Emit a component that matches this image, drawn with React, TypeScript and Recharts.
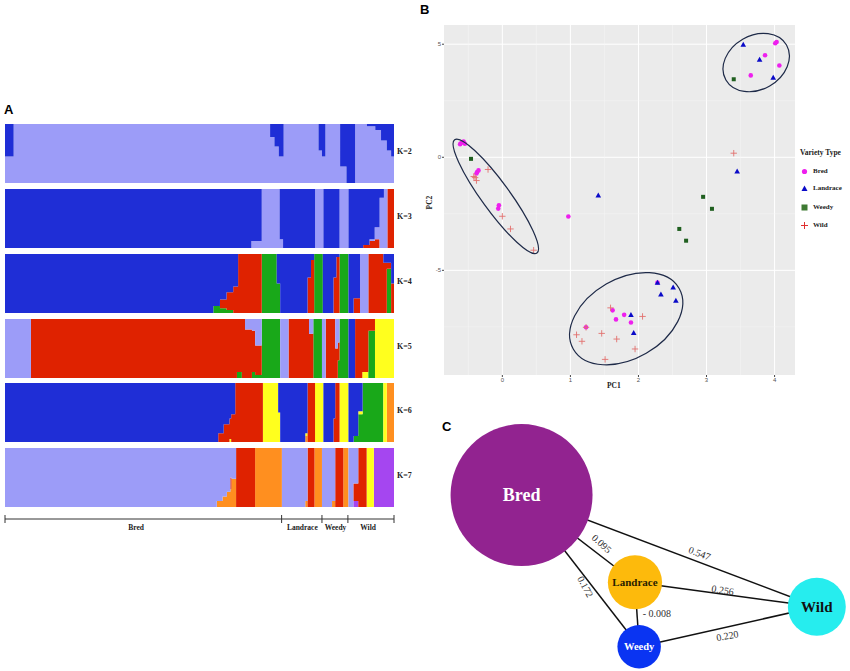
import React from "react";
import {
  Area,
  AreaChart,
  CartesianGrid,
  Line,
  LineChart,
  ReferenceDot,
  ReferenceLine,
  Scatter,
  ScatterChart,
  XAxis,
  YAxis,
} from "recharts";

const SERIF = '"Liberation Serif", "DejaVu Serif", serif';
const SANS = '"Liberation Sans", Arial, sans-serif';

// ---------- A: ancestry (STRUCTURE) ----------
const ANC: Record<string, string> = {
  light: "#9C9CF8",
  blue: "#1F2ED6",
  red: "#DF2200",
  green: "#19A819",
  yellow: "#FFFF1E",
  orange: "#FF8F1F",
  purple: "#A546F0",
};

const groupNames = ["Bred", "Landrace", "Weedy", "Wild"];
const groupCounts = [96, 14, 9, 16];
const groupLabelAt = [45.5, 103.2, 114.7, 126];

// rows: [individual index where the run starts, ...ancestry fractions in key order]
const k2Keys = ["light", "blue"];
const k2Rows = [
  [0, 0.45, 0.55],
  [3, 1, 0],
  [92, 0.78, 0.22],
  [93.5, 0.62, 0.38],
  [95, 0.45, 0.55],
  [96.7, 1, 0],
  [108.8, 0.55, 0.45],
  [110, 0.45, 0.55],
  [111.2, 1, 0],
  [116.3, 0.28, 0.72],
  [118.5, 0, 1],
  [121.5, 1, 0],
  [125.6, 0.96, 0.04],
  [128.5, 0.9, 0.1],
  [130.5, 0.72, 0.28],
  [132.5, 0.55, 0.45],
  [134, 0.45, 0.55],
  [135, 0.45, 0.55],
];

const k3Keys = ["red", "light", "blue"];
const k3Rows = [
  [0, 0, 0, 1],
  [85.5, 0, 0.12, 0.88],
  [89.1, 0, 1, 0],
  [95.3, 0, 0.15, 0.85],
  [96.5, 0, 0, 1],
  [107.6, 0, 1, 0],
  [110.5, 0, 0, 1],
  [116.1, 0, 1, 0],
  [119.2, 0, 0, 1],
  [124.3, 0.05, 0, 0.95],
  [126.5, 0.12, 0.03, 0.85],
  [128.3, 0.15, 0.2, 0.65],
  [130, 0, 0.85, 0.15],
  [131.5, 0, 1, 0],
  [132.7, 1, 0, 0],
  [135, 1, 0, 0],
];

const k4Keys = ["green", "red", "light", "blue"];
const k4Rows = [
  [0, 0, 0, 0, 1],
  [72.3, 0.12, 0, 0, 0.88],
  [74.6, 0.08, 0.15, 0, 0.77],
  [76.9, 0.05, 0.3, 0, 0.65],
  [79.2, 0, 0.45, 0, 0.55],
  [80.9, 0, 1, 0, 0],
  [89.1, 1, 0, 0, 0],
  [94.3, 0.5, 0, 0, 0.5],
  [95.5, 0, 0, 0, 1],
  [105, 0, 0.6, 0, 0.4],
  [106.2, 0, 0.9, 0, 0.1],
  [107.3, 1, 0, 0, 0],
  [110.3, 0, 0, 0, 1],
  [114, 0, 0.6, 0, 0.4],
  [115, 0, 0.95, 0, 0.05],
  [116.1, 1, 0, 0, 0],
  [119.2, 0, 0, 0, 1],
  [121, 0, 0.25, 0, 0.75],
  [123.2, 0, 0, 1, 0],
  [126.1, 0, 1, 0, 0],
  [131.3, 0, 0.85, 0, 0.15],
  [132.5, 0.75, 0.1, 0, 0.15],
  [134, 0, 0.5, 0, 0.5],
  [135, 0, 0.5, 0, 0.5],
];

const k5Keys = ["yellow", "green", "red", "blue", "light"];
const k5Rows = [
  [0, 0, 0, 0, 0, 1],
  [9, 0, 0, 1, 0, 0],
  [80.5, 0, 0.1, 0.9, 0, 0],
  [82.2, 0, 0, 1, 0, 0],
  [83.3, 0, 0, 0.82, 0, 0.18],
  [85.7, 0, 0.1, 0.7, 0, 0.2],
  [86.8, 0, 0.05, 0.5, 0, 0.45],
  [89.1, 0, 1, 0, 0, 0],
  [95.5, 0, 0, 0, 0, 1],
  [98.4, 0, 0, 1, 0, 0],
  [105.5, 0, 0, 0.75, 0, 0.25],
  [107, 0, 1, 0, 0, 0],
  [110, 0, 0, 0, 0, 1],
  [111.3, 0, 0, 1, 0, 0],
  [114.6, 0, 0, 0.5, 0, 0.5],
  [115.5, 0, 0.3, 0.3, 0, 0.4],
  [116.1, 0, 1, 0, 0, 0],
  [119.2, 0, 0, 0, 1, 0],
  [121.5, 0, 0, 1, 0, 0],
  [124, 0.1, 0, 0.9, 0, 0],
  [126.1, 0, 0.8, 0.2, 0, 0],
  [128.4, 1, 0, 0, 0, 0],
  [135, 1, 0, 0, 0, 0],
];

const k6Keys = ["orange", "green", "yellow", "red", "blue"];
const k6Rows = [
  [0, 0, 0, 0, 0, 1],
  [74, 0, 0, 0, 0.15, 0.85],
  [75.9, 0, 0, 0, 0.3, 0.7],
  [77.9, 0, 0, 0.05, 0.35, 0.6],
  [78.5, 0, 0, 0, 0.47, 0.53],
  [79.9, 0, 0, 0, 1, 0],
  [89.5, 0, 0, 1, 0, 0],
  [94.8, 0, 0, 0.5, 0, 0.5],
  [95.5, 0, 0, 0, 0, 1],
  [104.2, 0.1, 0, 0.05, 0, 0.85],
  [105, 0, 0, 0, 1, 0],
  [107.6, 0, 0, 1, 0, 0],
  [110.5, 0, 0, 0, 0, 1],
  [114, 0, 0, 0, 0.4, 0.6],
  [114.6, 0, 0, 0, 1, 0],
  [116.1, 0, 0, 1, 0, 0],
  [119.2, 0, 0, 0, 0, 1],
  [121, 0, 0.1, 0, 0, 0.9],
  [122.6, 0, 0.47, 0.05, 0, 0.48],
  [124.1, 0, 1, 0, 0, 0],
  [131.3, 0, 0, 1, 0, 0],
  [132.5, 1, 0, 0, 0, 0],
  [135, 1, 0, 0, 0, 0],
];

const k7Keys = ["purple", "yellow", "orange", "red", "light"];
const k7Rows = [
  [0, 0, 0, 0, 0, 1],
  [73.5, 0, 0, 0.1, 0, 0.9],
  [75.5, 0, 0, 0.18, 0, 0.82],
  [77, 0, 0, 0.26, 0, 0.74],
  [78.2, 0, 0, 0.3, 0.2, 0.5],
  [78.6, 0, 0, 0.48, 0, 0.52],
  [80.2, 0, 0, 0, 1, 0],
  [86.8, 0, 0, 1, 0, 0],
  [96.1, 0, 0, 0, 0, 1],
  [104.2, 0, 0, 0.1, 0, 0.9],
  [105, 0, 0, 0, 1, 0],
  [107.4, 0, 0, 1, 0, 0],
  [110, 0, 0, 0, 0, 1],
  [113.5, 0, 0, 0.1, 0, 0.9],
  [114.6, 0, 0, 0, 1, 0],
  [117.4, 0, 0, 1, 0, 0],
  [119.2, 0, 0, 0, 0, 1],
  [120.9, 0.1, 0, 0, 0.3, 0.6],
  [122.6, 0, 0, 0, 1, 0],
  [125.5, 0, 1, 0, 0, 0],
  [128, 1, 0, 0, 0, 0],
  [135, 1, 0, 0, 0, 0],
];

const structurePanels = [
  { label: "K=2", keys: k2Keys, rows: k2Rows },
  { label: "K=3", keys: k3Keys, rows: k3Rows },
  { label: "K=4", keys: k4Keys, rows: k4Rows },
  { label: "K=5", keys: k5Keys, rows: k5Rows },
  { label: "K=6", keys: k6Keys, rows: k6Rows },
  { label: "K=7", keys: k7Keys, rows: k7Rows },
];

// ---------- B: PCA ----------
const bredPts = [
  [4.03, 5.1], [4.01, 5.04], [3.86, 4.51], [4.07, 4.06], [3.65, 3.62],
  [-0.6, 0.64], [-0.57, 0.7], [-0.62, 0.58], [-0.55, 0.6],
  [-0.37, -0.65], [-0.35, -0.58], [-0.38, -0.72],
  [-0.05, -2.12], [-0.06, -2.27], [0.97, -2.62],
  [2.28, -5.54], [1.62, -6.77], [1.79, -6.97], [1.67, -7.17], [1.89, -7.31], [1.23, -7.52],
];
const landracePts = [
  [3.54, 4.99], [3.78, 4.32], [3.98, 3.53], [3.45, -0.62], [1.41, -1.68],
  [2.28, -5.54], [2.51, -5.75], [2.33, -6.06], [2.55, -6.34], [1.89, -6.97], [1.93, -7.76],
];
const weedyPts = [
  [3.4, 3.45], [-0.46, -0.07], [2.95, -1.75], [3.08, -2.28], [2.6, -3.17], [2.7, -3.69],
];
const wildPts = [
  [3.4, 0.18], [-0.21, -0.54], [-0.4, -0.9], [-0.38, -1.03], [-0.42, -0.85],
  [0.0, -2.61], [0.12, -3.17], [0.46, -4.11],
  [1.59, -6.66], [2.06, -7.04], [1.23, -7.52], [1.09, -7.85], [1.46, -7.79],
  [1.68, -8.04], [1.17, -8.14], [1.95, -8.48], [1.51, -8.94],
];
const pcXTicks = [0, 1, 2, 3, 4];
const pcYTicks = [-5, 0, 5];
// cluster ellipses: centre in PC units
const ellipseCentres = [
  [3.73, 4.19],
  [-0.096, -1.73],
  [1.82, -7.14],
];
const ellipseShape = [
  { rx: 35, ry: 27, angle: -30 },
  { rx: 70, ry: 14, angle: 54 },
  { rx: 61, ry: 40, angle: -30 },
];

// ---------- C: network ----------
const nodeNames = ["Bred", "Landrace", "Weedy", "Wild"];
const nodeX = [21.8, 48.8, 49.8, 92.1];
const nodeY = [32.6, 66.0, 90.7, 75.4];
const nodeCounts = [96, 14, 9, 16];
const edgeFrom = ["Bred", "Bred", "Bred", "Landrace", "Landrace", "Weedy"];
const edgeTo = ["Wild", "Landrace", "Weedy", "Weedy", "Wild", "Wild"];
const edgeValues = ["0.547", "0.095", "0.172", "- 0.008", "0.256", "0.220"];
const edgeLabelX = [64.2, 40.9, 37.0, 54.0, 69.7, 70.8];
const edgeLabelY = [54.9, 51.2, 67.7, 77.9, 69.0, 86.5];
const edgeLabelAngle = [21, 42, 62, 0, 9, -10];

const NODE_STYLE: Record<string, { fill: string; text: string; size: number }> = {
  Bred: { fill: "#922390", text: "#FFFFFF", size: 18 },
  Landrace: { fill: "#FDBA0C", text: "#2A1E00", size: 11 },
  Weedy: { fill: "#0A34F2", text: "#FFFFFF", size: 10.5 },
  Wild: { fill: "#26EDEE", text: "#111111", size: 15 },
};
const NODE_MAX_R = 71;

function toTable(keys: string[], rows: number[][]) {
  return rows.map((r) => {
    const o: Record<string, number> = { x: r[0] };
    keys.forEach((k, i) => (o[k] = r[i + 1]));
    return o;
  });
}

const totalInd = groupCounts.reduce((a, b) => a + b, 0);
const boundaries = groupCounts.reduce<number[]>((acc, c) => [...acc, acc[acc.length - 1] + c], [0]);
const axisTicks = [...boundaries, ...groupLabelAt].sort((a, b) => a - b);

function StructurePanel(props: { label: string; keys: string[]; rows: number[][]; top: number }) {
  const data = toTable(props.keys, props.rows);
  return (
    <>
      <div style={{ position: "absolute", left: 5, top: props.top }}>
        <AreaChart width={389} height={59} data={data} margin={{ top: 0, right: 0, bottom: 0, left: 0 }}>
          <XAxis type="number" dataKey="x" domain={[0, totalInd]} hide />
          <YAxis type="number" domain={[0, 1]} hide />
          {props.keys.map((k) => (
            <Area
              key={k}
              dataKey={k}
              stackId="q"
              type="stepAfter"
              stroke="none"
              fill={ANC[k]}
              fillOpacity={1}
              dot={false}
              activeDot={false}
              isAnimationActive={false}
            />
          ))}
        </AreaChart>
      </div>
      <div
        style={{
          position: "absolute",
          left: 397,
          top: props.top + 23,
          fontFamily: SERIF,
          fontWeight: 700,
          fontSize: 8,
          color: "#222",
          whiteSpace: "nowrap",
        }}
      >
        {props.label}
      </div>
    </>
  );
}

function GroupTick(props: any) {
  const { x, y, payload } = props;
  const bi = boundaries.indexOf(payload.value);
  if (bi >= 0) {
    return <line x1={x} x2={x} y1={y - 4} y2={y + 4} stroke="#333" strokeWidth={1} />;
  }
  const gi = groupLabelAt.indexOf(payload.value);
  return (
    <text x={x} y={y + 11} textAnchor="middle" fontFamily={SERIF} fontWeight={700} fontSize={7.5} fill="#222">
      {groupNames[gi]}
    </text>
  );
}

function PanelA() {
  const tops = [124, 189, 254, 319, 383, 448];
  const axisRows = boundaries.map((b) => ({ x: b, y: 0 }));
  return (
    <>
      <div style={{ position: "absolute", left: 4, top: 102, fontFamily: SANS, fontWeight: 700, fontSize: 13 }}>A</div>
      {structurePanels.map((p, i) => (
        <StructurePanel key={p.label} label={p.label} keys={p.keys} rows={p.rows} top={tops[i]} />
      ))}
      <div style={{ position: "absolute", left: 3, top: 489 }}>
        <LineChart width={393} height={60} data={axisRows} margin={{ top: 0, right: 2, bottom: 0, left: 2 }}>
          <XAxis
            type="number"
            dataKey="x"
            domain={[0, totalInd]}
            ticks={axisTicks}
            interval={0}
            height={30}
            tickSize={0}
            tickMargin={0}
            axisLine={{ stroke: "#333", strokeWidth: 1 }}
            tick={GroupTick}
          />
          <YAxis domain={[0, 1]} hide />
          <Line dataKey="y" stroke="none" dot={false} activeDot={false} isAnimationActive={false} />
        </LineChart>
      </div>
    </>
  );
}

const BRED_C = "#EE1FEE";
const LAND_C = "#0A0AC8";
const WEEDY_C = "#1F5F1F";
const WILD_C = "#E2716E";

function BredDot(p: any) {
  return <circle cx={p.cx} cy={p.cy} r={2.3} fill={BRED_C} />;
}
function LandDot(p: any) {
  const s = 2.8;
  return <path d={`M${p.cx},${p.cy - s} L${p.cx + s},${p.cy + s * 0.8} L${p.cx - s},${p.cy + s * 0.8} Z`} fill={LAND_C} />;
}
function WeedyDot(p: any) {
  return <rect x={p.cx - 2} y={p.cy - 2} width={4} height={4} fill={WEEDY_C} />;
}
function WildDot(p: any) {
  const s = 3.2;
  return (
    <g stroke={WILD_C} strokeWidth={0.9}>
      <line x1={p.cx - s} x2={p.cx + s} y1={p.cy} y2={p.cy} />
      <line x1={p.cx} x2={p.cx} y1={p.cy - s} y2={p.cy + s} />
    </g>
  );
}

const toPc = (pts: number[][]) => pts.map(([a, b]) => ({ pc1: a, pc2: b }));

function LegendItem(props: { label: string; top: number; icon: React.ReactNode }) {
  return (
    <div style={{ position: "absolute", left: 800, top: props.top, display: "flex", alignItems: "center", height: 10 }}>
      <svg width={9} height={9} style={{ marginRight: 4 }}>
        {props.icon}
      </svg>
      <span style={{ fontFamily: SERIF, fontWeight: 700, fontSize: 7, color: "#222" }}>{props.label}</span>
    </div>
  );
}

function PanelB() {
  return (
    <>
      <div style={{ position: "absolute", left: 420, top: 2, fontFamily: SANS, fontWeight: 700, fontSize: 13 }}>B</div>
      <div style={{ position: "absolute", left: 420, top: 0 }}>
        <ScatterChart width={430} height={400} margin={{ top: 25, right: 55, bottom: 13, left: 10 }}>
          <CartesianGrid
            fill="#EBEBEB"
            stroke="#FFFFFF"
            strokeWidth={1}
            horizontalValues={pcYTicks}
            verticalValues={pcXTicks}
          />
          <CartesianGrid
            stroke="#F6F6F6"
            strokeWidth={0.5}
            horizontalValues={[-7.5, -2.5, 2.5]}
            verticalValues={[-0.5, 0.5, 1.5, 2.5, 3.5]}
          />
          <XAxis
            type="number"
            dataKey="pc1"
            domain={[-0.857, 4.3]}
            ticks={pcXTicks}
            allowDataOverflow
            height={12}
            axisLine={false}
            tickSize={2}
            tickMargin={1}
            tickLine={{ stroke: "#444" }}
            tick={{ fontSize: 6, fill: "#555", fontFamily: SANS }}
          />
          <YAxis
            type="number"
            dataKey="pc2"
            domain={[-9.63, 5.85]}
            ticks={pcYTicks}
            allowDataOverflow
            width={14}
            axisLine={false}
            tickSize={2}
            tickMargin={1}
            tickLine={{ stroke: "#444" }}
            tick={{ fontSize: 6, fill: "#555", fontFamily: SANS }}
          />
          <Scatter data={toPc(weedyPts)} shape={WeedyDot} isAnimationActive={false} />
          <Scatter data={toPc(bredPts)} shape={BredDot} isAnimationActive={false} />
          <Scatter data={toPc(landracePts)} shape={LandDot} isAnimationActive={false} />
          <Scatter data={toPc(wildPts)} shape={WildDot} isAnimationActive={false} />
          {ellipseCentres.map(([ex, ey], i) => (
            <ReferenceDot
              key={i}
              x={ex}
              y={ey}
              r={1}
              ifOverflow="visible"
              shape={(p: any) => (
                <ellipse
                  cx={p.cx}
                  cy={p.cy}
                  rx={ellipseShape[i].rx}
                  ry={ellipseShape[i].ry}
                  transform={`rotate(${ellipseShape[i].angle} ${p.cx} ${p.cy})`}
                  fill="none"
                  stroke="#1E2A48"
                  strokeWidth={1.2}
                />
              )}
            />
          ))}
        </ScatterChart>
      </div>
      <div style={{ position: "absolute", left: 607, top: 381, fontFamily: SERIF, fontWeight: 700, fontSize: 7.5, color: "#222" }}>
        PC1
      </div>
      <div
        style={{
          position: "absolute",
          left: 423,
          top: 198,
          transform: "rotate(-90deg)",
          fontFamily: SERIF,
          fontWeight: 700,
          fontSize: 7.5,
          color: "#222",
        }}
      >
        PC2
      </div>
      <div style={{ position: "absolute", left: 800, top: 148, fontFamily: SERIF, fontWeight: 700, fontSize: 7.5, color: "#222" }}>
        Variety Type
      </div>
      <LegendItem label="Bred" top={166} icon={<circle cx={4.5} cy={4.5} r={2.6} fill={BRED_C} />} />
      <LegendItem label="Landrace" top={183} icon={<path d="M4.5,1.5 L7.5,7 L1.5,7 Z" fill={LAND_C} />} />
      <LegendItem label="Weedy" top={202} icon={<rect x={1.5} y={1.5} width={6} height={6} fill="#3E7A33" />} />
      <LegendItem
        label="Wild"
        top={220}
        icon={
          <g stroke="#E03030" strokeWidth={1}>
            <line x1={1} x2={8} y1={4.5} y2={4.5} />
            <line x1={4.5} x2={4.5} y1={1} y2={8} />
          </g>
        }
      />
    </>
  );
}

function NodeShape(p: any) {
  const { cx, cy, payload } = p;
  const st = NODE_STYLE[payload.name];
  const maxN = Math.max(...nodeCounts);
  const r = NODE_MAX_R * Math.sqrt(payload.n / maxN);
  return (
    <g>
      <circle cx={cx} cy={cy} r={r} fill={st.fill} />
      <text
        x={cx}
        y={cy}
        textAnchor="middle"
        dominantBaseline="central"
        fontFamily={SERIF}
        fontWeight={700}
        fontSize={st.size}
        fill={st.text}
      >
        {payload.name}
      </text>
    </g>
  );
}

function EdgeLabel(p: any) {
  const { cx, cy, payload } = p;
  return (
    <text
      x={cx}
      y={cy}
      textAnchor="middle"
      dominantBaseline="central"
      fontFamily={SERIF}
      fontSize={10}
      fill="#333"
      transform={`rotate(${payload.angle} ${cx} ${cy})`}
    >
      {payload.label}
    </text>
  );
}

function PanelC() {
  const nodes = nodeNames.map((name, i) => ({ name, x: nodeX[i], y: nodeY[i], n: nodeCounts[i] }));
  const pos = (name: string) => {
    const i = nodeNames.indexOf(name);
    return { x: nodeX[i], y: nodeY[i] };
  };
  const labels = edgeValues.map((label, i) => ({ label, x: edgeLabelX[i], y: edgeLabelY[i], angle: edgeLabelAngle[i] }));
  return (
    <>
      <div style={{ position: "absolute", left: 442, top: 419, fontFamily: SANS, fontWeight: 700, fontSize: 13 }}>C</div>
      <div style={{ position: "absolute", left: 430, top: 410 }}>
        <ScatterChart width={420} height={261} margin={{ top: 0, right: 0, bottom: 0, left: 0 }}>
          <XAxis type="number" dataKey="x" domain={[0, 100]} hide />
          <YAxis type="number" dataKey="y" domain={[0, 100]} reversed hide />
          {edgeFrom.map((f, i) => (
            <ReferenceLine
              key={i}
              segment={[pos(f), pos(edgeTo[i])]}
              stroke="#111"
              strokeWidth={1.5}
              ifOverflow="visible"
            />
          ))}
          <Scatter data={labels} shape={EdgeLabel} isAnimationActive={false} />
          <Scatter data={nodes} shape={NodeShape} isAnimationActive={false} />
        </ScatterChart>
      </div>
    </>
  );
}

export default function App() {
  return (
    <div style={{ position: "absolute", left: 0, top: 0, width: 850, height: 671, background: "#fff", overflow: "hidden" }}>
      <PanelA />
      <PanelB />
      <PanelC />
    </div>
  );
}
